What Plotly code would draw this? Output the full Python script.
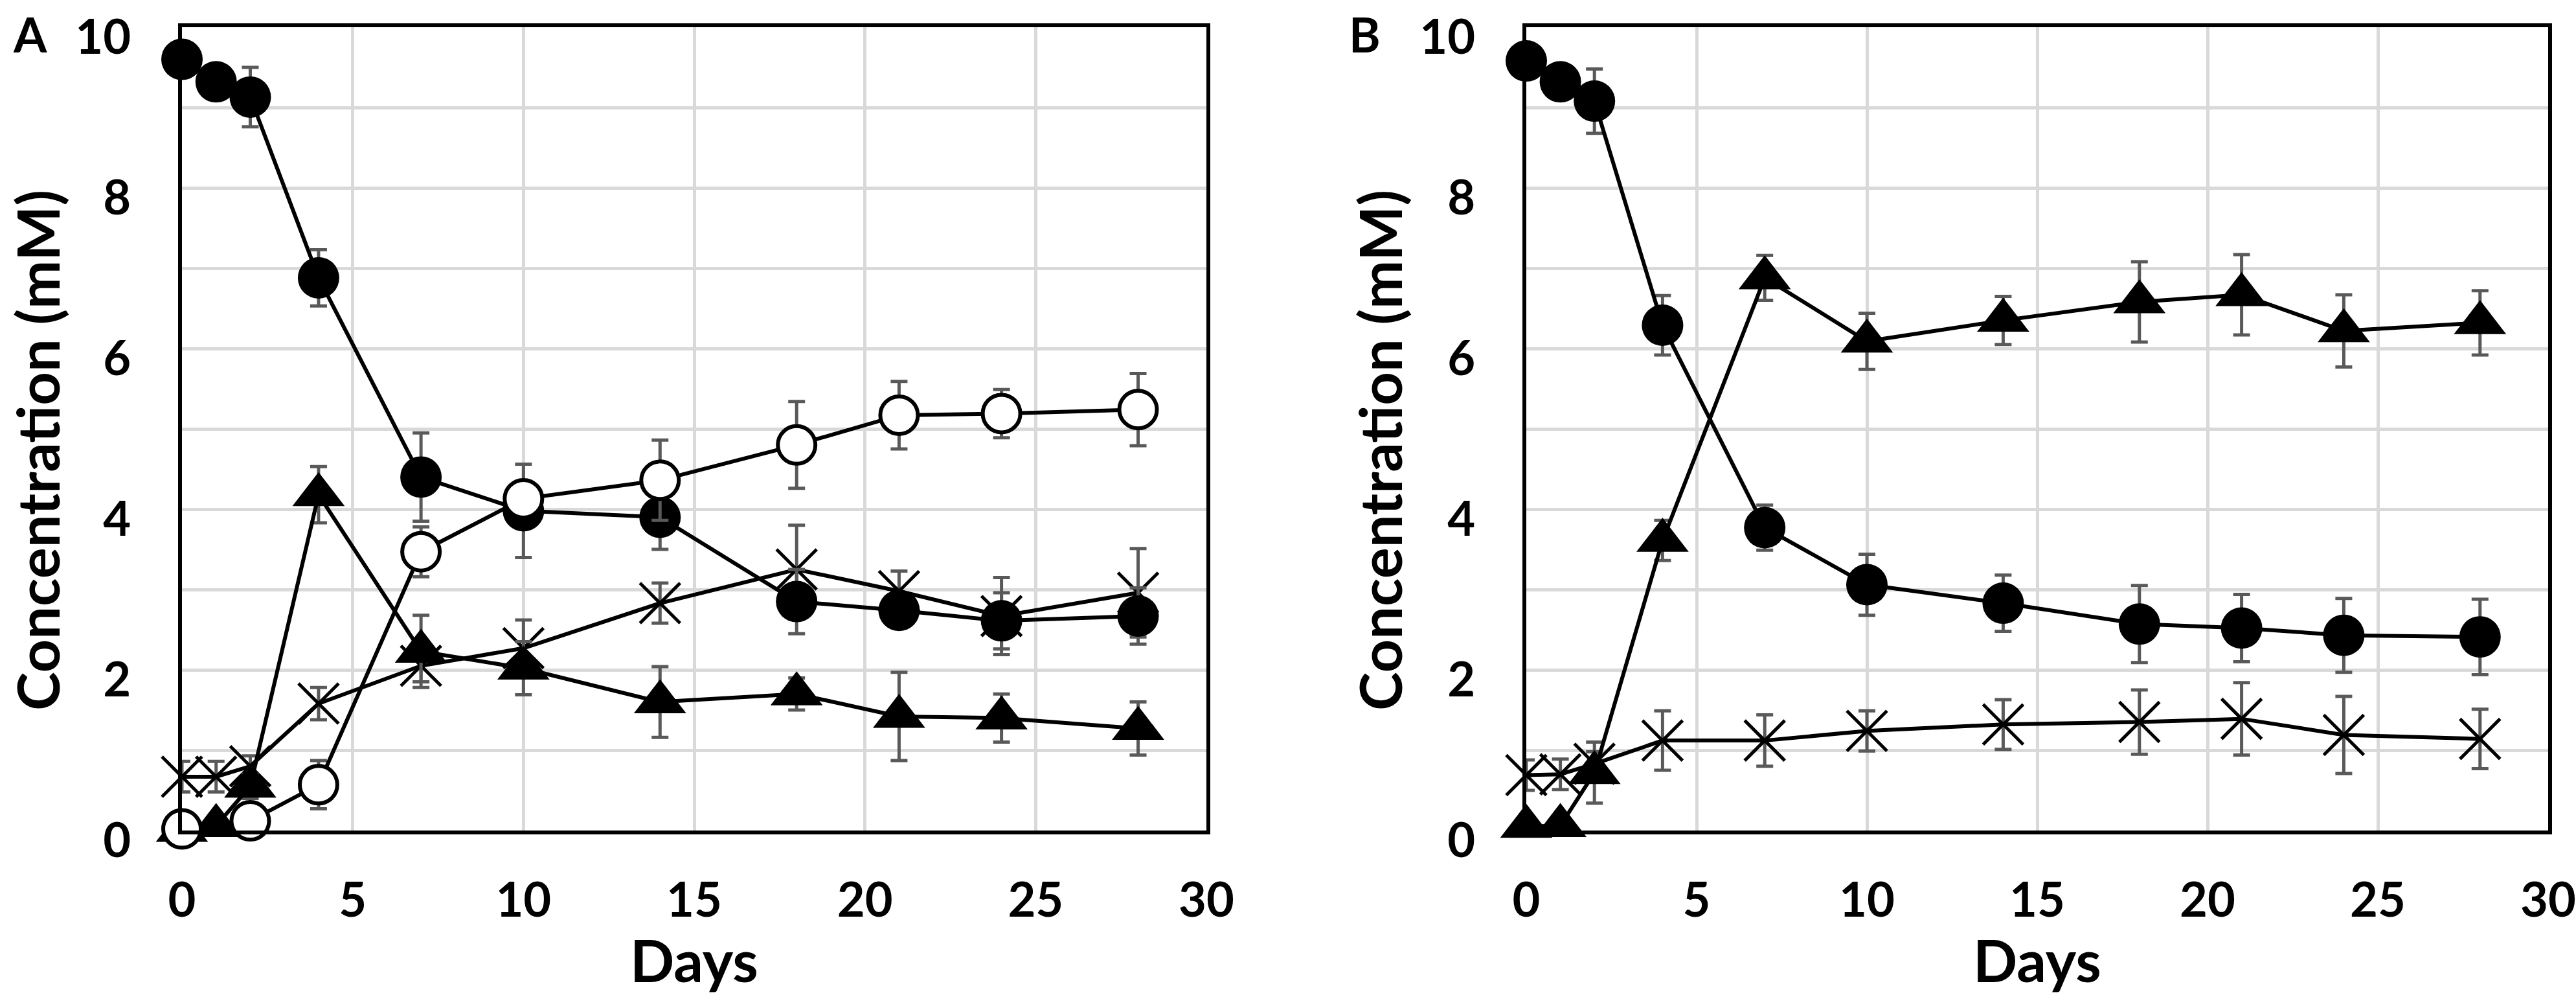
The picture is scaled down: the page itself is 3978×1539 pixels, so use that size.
import plotly.graph_objects as go

# Sampling days (same for both panels)
days = [0, 1, 2, 4, 7, 10, 14, 18, 21, 24, 28]

# Panel A (mM)
a_fill = [9.6, 9.32, 9.13, 6.88, 4.4, 3.98, 3.9, 2.85, 2.74, 2.61, 2.67]
a_fill_err = [0.1, 0.1, 0.37, 0.35, 0.55, 0.58, 0.4, 0.4, 0.2, 0.35, 0.35]
a_open = [0.02, None, 0.12, 0.57, 3.47, 4.13, 4.36, 4.8, 5.17, 5.19, 5.24]
a_open_err = [0.05, None, 0.05, 0.3, 0.31, 0.15, 0.5, 0.54, 0.42, 0.3, 0.45]
a_tri = [0.0, 0.06, 0.55, 4.18, 2.23, 2.02, 1.6, 1.7, 1.42, 1.4, 1.27]
a_tri_err = [0.05, 0.05, 0.15, 0.35, 0.45, 0.33, 0.44, 0.2, 0.55, 0.3, 0.33]
a_x = [0.67, 0.67, 0.8, 1.58, 2.05, 2.27, 2.83, 3.25, 2.98, 2.67, 2.96]
a_x_err = [0.19, 0.19, 0.13, 0.2, 0.2, 0.35, 0.25, 0.55, 0.25, 0.48, 0.55]

# Panel B (mM)
b_fill = [9.58, 9.32, 9.08, 6.29, 3.77, 3.06, 2.83, 2.57, 2.52, 2.43, 2.41]
b_fill_err = [0.1, 0.1, 0.4, 0.37, 0.28, 0.38, 0.35, 0.48, 0.42, 0.46, 0.47]
b_tri = [0.05, 0.06, 0.72, 3.61, 6.88, 6.09, 6.35, 6.58, 6.67, 6.22, 6.32]
b_tri_err = [0.05, 0.05, 0.38, 0.25, 0.28, 0.35, 0.3, 0.5, 0.5, 0.45, 0.4]
b_x = [0.69, 0.7, 0.83, 1.12, 1.12, 1.24, 1.32, 1.35, 1.39, 1.19, 1.14]
b_x_err = [0.19, 0.19, 0.15, 0.37, 0.32, 0.25, 0.31, 0.4, 0.45, 0.48, 0.37]

y_ticks = [0, 2, 4, 6, 8, 10]

W, H = 3978, 1539
FONT = "Lato"
ERR_GREY = "#595959"
GRID = "#d9d9d9"

MARKERS = {
    "fill": dict(symbol="circle", size=64, color="black", line=dict(width=0)),
    "open": dict(symbol="circle", size=58, color="white", line=dict(width=6, color="black")),
    "tri": dict(symbol="triangle-up", size=70, color="black", line=dict(width=0)),
    "x": dict(symbol="x-thin-open", size=62, color="black", line=dict(width=5, color="black")),
}


def _series(y, err, kind, xa, ya):
    return go.Scatter(
        x=days, y=y, xaxis=xa, yaxis=ya,
        mode="lines+markers",
        line=dict(color="black", width=6),
        marker=MARKERS[kind],
        error_y=dict(type="data", array=err, visible=True,
                     color=ERR_GREY, thickness=5, width=13),
        connectgaps=True, cliponaxis=False, showlegend=False,
    )


fig = go.Figure()

# draw order: crosses under triangles under circles
for y, err, kind in [(a_x, a_x_err, "x"), (a_tri, a_tri_err, "tri"),
                     (a_fill, a_fill_err, "fill"), (a_open, a_open_err, "open")]:
    fig.add_trace(_series(y, err, kind, "x", "y"))
for y, err, kind in [(b_x, b_x_err, "x"), (b_tri, b_tri_err, "tri"),
                     (b_fill, b_fill_err, "fill")]:
    fig.add_trace(_series(y, err, kind, "x2", "y2"))

tick_font = dict(family=FONT, size=74, color="black", weight="bold")
title_font = dict(family=FONT, size=90, color="black", weight="bold")

# automargin off: the template would otherwise grow the margins and shrink the plots
x_common = dict(
    range=[0, 30], tick0=0, dtick=5, showgrid=True, gridcolor=GRID, gridwidth=5,
    showline=True, mirror=True, linecolor="black", linewidth=6, zeroline=False,
    ticks="", tickfont=tick_font, ticklabelstandoff=38, ticklabeloverflow="allow",
    automargin=False, fixedrange=True,
)
# Excel sets its value labels a little below the gridlines -> ticklabelshift
y_common = dict(
    range=[0, 10], tickmode="array", tickvals=y_ticks,
    showgrid=True, gridcolor=GRID, gridwidth=5,
    minor=dict(dtick=1, showgrid=True, gridcolor=GRID, gridwidth=5),
    showline=True, mirror=True, linecolor="black", linewidth=6, zeroline=False,
    ticks="", tickfont=tick_font, ticklabelstandoff=58, ticklabelshift=15,
    ticklabeloverflow="allow", automargin=False, fixedrange=True,
)

plot_top = 1 - 42 / H
plot_bottom = 1 - 1282 / H
a_left, a_right = 281 / W, 1863 / W
b_left, b_right = 2357 / W, 3935 / W

fig.update_layout(
    width=W, height=H,
    margin=dict(l=0, r=0, t=0, b=0, autoexpand=False),
    paper_bgcolor="white", plot_bgcolor="white",
    xaxis=dict(domain=[a_left, a_right], anchor="y", **x_common),
    yaxis=dict(domain=[plot_bottom, plot_top], anchor="x", **y_common),
    xaxis2=dict(domain=[b_left, b_right], anchor="y2", **x_common),
    yaxis2=dict(domain=[plot_bottom, plot_top], anchor="x2", **y_common),
)

# panel letters and axis titles
centre = dict(xref="paper", yref="paper", xanchor="center", yanchor="middle", showarrow=False)
ann = []
for letter, lx in [("A", 46), ("B", 2107)]:
    ann.append(dict(text=letter, x=lx / W, y=1 - 52 / H,
                    font=dict(family=FONT, size=74, color="black", weight="bold"), **centre))
for cx in [(a_left + a_right) / 2, (b_left + b_right) / 2]:
    ann.append(dict(text="Days", x=cx, y=1 - 1481 / H, font=title_font, **centre))
for tx in [57, 2130]:
    ann.append(dict(text="Concentration (mM)", x=tx / W, y=1 - 695 / H,
                    textangle=-90, font=title_font, **centre))
fig.update_layout(annotations=ann)

# drop the browser's default 8px body margin so the figure sits at the page origin
fig.write_html("out.html", config={"displayModeBar": False},
               post_script="document.body.style.margin='0px';")
